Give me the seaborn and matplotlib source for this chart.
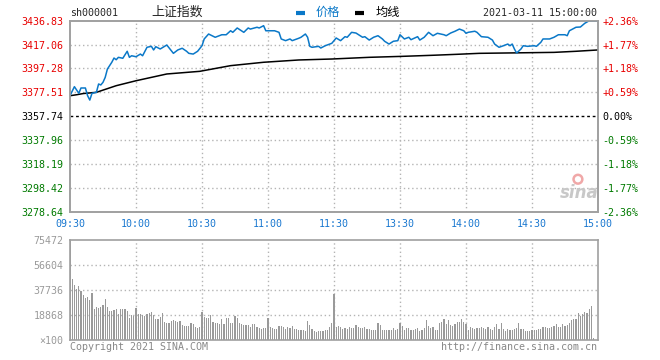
import matplotlib
matplotlib.use("Agg")
import matplotlib.pyplot as plt
from matplotlib.lines import Line2D
import pandas as pd
import seaborn as sns

# minute index from 09:30 (lunch break removed), 0..240
price_min = [0, 2, 4, 5, 7, 8, 9, 10, 12, 13, 14, 15, 16, 17, 18, 19, 20, 21, 22, 24,
             26, 27, 28, 30, 32, 33, 35, 37, 38, 39, 41, 44, 47, 49, 51, 53, 54, 56, 58, 60,
             61, 63, 66, 69, 71, 73, 74, 76, 79, 81, 82, 85, 86, 88, 89, 93, 95, 96, 98, 100,
             101, 104, 105, 107, 108, 109, 110, 113, 114, 116, 119, 121, 123, 125, 126, 128, 130, 133, 134, 136,
             138, 140, 142, 143, 145, 147, 149, 150, 152, 154, 155, 158, 159, 161, 163, 165, 167, 170, 171, 173,
             175, 177, 179, 180, 181, 184, 185, 187, 190, 192, 193, 195, 197, 199, 200, 201, 202, 203, 205, 206,
             208, 211, 212, 214, 215, 218, 220, 222, 225, 226, 227, 230, 232, 234, 236, 240]
price_val = [3374.7, 3382.2, 3376.7, 3381.1, 3381.1, 3374.7, 3371.1, 3376.7, 3377.5, 3384.4,
             3383.6, 3385.8, 3389.9, 3396.8, 3399.6, 3402.4, 3405.9, 3404.5, 3406.5, 3405.7,
             3411.5, 3406.5, 3407.8, 3407.0, 3409.2, 3407.8, 3414.8, 3415.6, 3412.6, 3415.3,
             3413.4, 3416.7, 3409.8, 3412.6, 3414.0, 3411.5, 3409.8, 3409.2, 3411.5, 3416.1,
             3421.7, 3425.8, 3423.1, 3425.2, 3425.2, 3428.5, 3427.2, 3430.8, 3427.2, 3430.8,
             3429.9, 3431.4, 3430.8, 3432.7, 3428.5, 3428.5, 3427.2, 3421.7, 3420.3, 3421.7,
             3420.3, 3422.3, 3423.1, 3425.8, 3423.1, 3415.6, 3414.8, 3415.6, 3414.2, 3416.1,
             3418.1, 3422.5, 3420.3, 3423.6, 3423.1, 3427.2, 3426.6, 3423.1, 3423.6, 3420.8,
             3423.1, 3424.4, 3421.7, 3419.8, 3417.5, 3419.8, 3420.3, 3425.2, 3421.7, 3423.1,
             3421.1, 3423.6, 3420.8, 3423.1, 3427.2, 3424.4, 3426.4, 3425.2, 3424.4, 3426.6,
             3428.1, 3429.9, 3428.5, 3426.4, 3427.2, 3428.1, 3427.2, 3423.6, 3423.1, 3420.8,
             3417.5, 3414.8, 3416.1, 3417.5, 3416.1, 3417.5, 3413.4, 3410.1, 3413.4, 3416.1,
             3415.6, 3416.1, 3415.6, 3418.9, 3421.7, 3421.7, 3423.1, 3425.2, 3425.2, 3424.4,
             3428.5, 3431.4, 3431.6, 3434.7, 3436.8, 3436.83]

avg_min = [0, 3, 6, 12, 21, 30, 44, 59, 73, 88, 104, 119, 136, 151, 165, 176, 186, 220, 230, 240]
avg_val = [3374.7, 3375.5, 3376.5, 3377.5, 3383.0, 3387.1, 3392.7, 3394.9, 3399.6, 3402.4,
           3404.3, 3405.1, 3406.5, 3407.3, 3408.2, 3409.0, 3409.8, 3410.6, 3411.5, 3412.6]

# volume per minute (x100 shares), one bar per minute 0..240
volume = [75472, 46000, 41500, 38200, 40800, 37200, 34000, 32000, 32700, 30200,
          35200, 23400, 25200, 23900, 24700, 26400, 30900, 25200, 22100, 21600,
          22600, 23400, 19400, 23100, 23100, 23100, 21900, 16900, 18900, 18100,
          23900, 19600, 19400, 18900, 18400, 19600, 20100, 20900, 19100, 15900,
          15900, 17600, 20100, 13600, 13100, 13100, 14300, 15100, 14600, 13800,
          14600, 11300, 10800, 10800, 10800, 13100, 12100, 10100, 8800, 10100,
          21400, 17600, 16400, 16400, 18900, 13800, 13100, 12600,
          12100, 15600, 12100, 16900, 16900, 13100, 13100, 18100, 16900, 13100,
          12100, 11300, 11300, 11300, 10100, 12100, 12100, 9600, 8800, 8300, 9300, 8800,
          16600,
          10100, 8800, 8300, 8300, 10600, 10600, 10100, 8300, 9600, 9300,
          10600, 8100, 8600, 7500, 7500, 7500, 6800, 14300, 11300, 8300,
          6800, 6000, 6800, 6800, 6800, 7500, 7500, 9600, 12600,
          34700,
          9600, 10600, 9600, 8100, 8800, 8100, 9600, 9100, 9100, 11300,
          10100, 9100, 9100, 9600, 8600, 8100, 7500, 7500, 7500, 12600,
          11300, 7500, 7500, 7500, 7500, 7500, 9100, 7500, 8300,
          12600,
          10600, 7500, 9100, 9100, 7500, 7500, 8100, 9100, 7000, 7500,
          9100, 15100, 10600, 9100, 9800, 7500, 7500,
          12600, 13800, 15600, 12100, 15100, 11300, 10600, 11800, 13800, 13300,
          16100, 13800, 12100, 7500, 9600, 9100, 8600, 9100, 8800, 9600,
          9100, 8100, 10100, 8100, 7500, 9600, 12100, 8300, 12600, 8600,
          7000, 8600, 7500, 7500, 8100, 9100, 13100, 8600, 8300, 7000,
          7000, 7000, 7500, 7500, 7500, 8300, 8300, 10100, 9600, 9100,
          9100, 9600, 10600, 12100, 9600, 10100, 11800, 10600, 11300, 12600,
          15100, 15600, 15600, 20600, 18100, 19600, 21100, 20100, 23700, 25700,
          1500, 0, 0]

time_labels = ["09:30", "10:00", "10:30", "11:00", "11:30", "13:30", "14:00", "14:30", "15:00"]
price_ticks = [3278.64, 3298.42, 3318.19, 3337.96, 3357.74, 3377.51, 3397.28, 3417.06, 3436.83]
pct_labels = ["-2.36%", "-1.77%", "-1.18%", "-0.59%", "0.00%", "+0.59%", "+1.18%", "+1.77%", "+2.36%"]
vol_ticks = [0, 18868, 37736, 56604, 75472]
vol_labels = ["×100", "18868", "37736", "56604", "75472"]
prev_close = 3357.74

sns.set_style("white")
plt.rcParams['font.family'] = ['DejaVu Sans Mono', 'Noto Sans CJK SC']

BLUE = "#0a78c8"
TICKBLUE = "#1a78d0"
RED = "#e80000"
GREEN = "#007a00"
SPINE = "#a0a0a0"
GRID = "#b4b4b4"
FS = 7.2

fig = plt.figure(figsize=(6.6, 3.6), dpi=100)
W, H = 660.0, 360.0
ax = fig.add_axes([70 / W, 1 - 211.7 / H, 528 / W, 191 / H])
axv = fig.add_axes([70 / W, 1 - 340 / H, 528 / W, 100 / H])

price_df = pd.DataFrame({"minute": price_min, "price": price_val})
avg_df = pd.DataFrame({"minute": avg_min, "price": avg_val})
vol_df = pd.DataFrame({"minute": range(len(volume)), "volume": volume})

# grid
for t in price_ticks[1:-1]:
    if t == prev_close:
        ax.axhline(t, color="black", lw=1, ls=(0, (2, 2)), zorder=1)
    else:
        ax.axhline(t, color=GRID, lw=1, ls=(0, (1, 2)), zorder=1)
for i in range(1, 8):
    ax.axvline(i * 30, color=GRID, lw=1, ls=(0, (1, 2)), zorder=1)
    axv.axvline(i * 30, color=GRID, lw=1, ls=(0, (1, 2)), zorder=1)
for t in vol_ticks[1:-1]:
    axv.axhline(t, color=GRID, lw=1, ls=(0, (1, 2)), zorder=1)

sns.lineplot(data=avg_df, x="minute", y="price", ax=ax, color="black", lw=1.1,
             estimator=None, zorder=3)
sns.lineplot(data=price_df, x="minute", y="price", ax=ax, color=BLUE, lw=1.1,
             estimator=None, zorder=4)

ax.set_xlim(0, 240)
ax.set_ylim(price_ticks[0], price_ticks[-1])
ax.set_xticks(range(0, 241, 30))
ax.set_xticklabels(time_labels, color=TICKBLUE, fontsize=FS)
ax.set_yticks(price_ticks)
ax.set_yticklabels([f"{t:.2f}" for t in price_ticks], fontsize=FS)
for lbl, t in zip(ax.get_yticklabels(), price_ticks):
    lbl.set_color(RED if t > prev_close else ("black" if t == prev_close else GREEN))
ax.tick_params(length=0, pad=4.5)
ax.tick_params(axis="x", pad=5)
ax.set_xlabel("")
ax.set_ylabel("")

axr = ax.twinx()
axr.set_ylim(price_ticks[0], price_ticks[-1])
axr.set_yticks(price_ticks)
axr.set_yticklabels(pct_labels, fontsize=FS)
for lbl, t in zip(axr.get_yticklabels(), price_ticks):
    lbl.set_color(RED if t > prev_close else ("black" if t == prev_close else GREEN))
axr.tick_params(length=0, pad=3)

for a in (ax, axr, axv):
    for s in a.spines.values():
        s.set_color(SPINE)
        s.set_linewidth(1.2)

sns.barplot(data=vol_df, x="minute", y="volume", ax=axv, color="#9a9a9a",
            native_scale=True, width=0.5, errorbar=None, saturation=1,
            linewidth=0, zorder=2)
axv.set_xlim(0, 240)
axv.set_ylim(0, vol_ticks[-1])
axv.set_xticks([])
axv.set_yticks(vol_ticks)
axv.set_yticklabels(vol_labels, fontsize=FS, color="#9a9a9a")
axv.tick_params(length=0, pad=4.5)
axv.set_xlabel("")
axv.set_ylabel("")

# header texts
fig.text(70 / W, 1 - 13.3 / H, "sh000001", fontsize=FS, va="center", ha="left")
fig.text(151 / W, 1 - 12.7 / H, "上证指数", fontsize=9.3, va="center", ha="left",
         family=['Noto Sans CJK SC', 'DejaVu Sans'])
fig.add_artist(Line2D([296 / W, 305 / W], [1 - 13.3 / H] * 2, color=BLUE, lw=3,
                      solid_capstyle="butt"))
fig.text(316 / W, 1 - 12.7 / H, "价格", fontsize=8.8, color=BLUE, va="center",
         ha="left", family=['Noto Sans CJK SC', 'DejaVu Sans'])
fig.add_artist(Line2D([355 / W, 364 / W], [1 - 13.3 / H] * 2, color="black", lw=3,
                      solid_capstyle="butt"))
fig.text(376 / W, 1 - 12.7 / H, "均线", fontsize=8.8, color="black", va="center",
         ha="left", family=['Noto Sans CJK SC', 'DejaVu Sans'])
fig.text(597 / W, 1 - 12.7 / H, "2021-03-11 15:00:00", fontsize=FS, va="center", ha="right")

# footer
fig.text(70 / W, 1 - 346.5 / H, "Copyright 2021 SINA.COM", fontsize=FS, color="#888888",
         va="center", ha="left")
fig.text(597 / W, 1 - 346.5 / H, "http://finance.sina.com.cn", fontsize=FS, color="#888888",
         va="center", ha="right")

# watermark
ax.text(0.965, 0.1, "sina", transform=ax.transAxes, fontsize=12, style="italic",
        weight="bold", color="#c8c8c8", ha="center", va="center", family="DejaVu Sans",
        zorder=2)
ax.scatter([0.962], [0.17], transform=ax.transAxes, s=40, facecolor="none",
           edgecolor="#f0a8a8", lw=1.8, zorder=2)

fig.savefig("out.png", dpi=100)
